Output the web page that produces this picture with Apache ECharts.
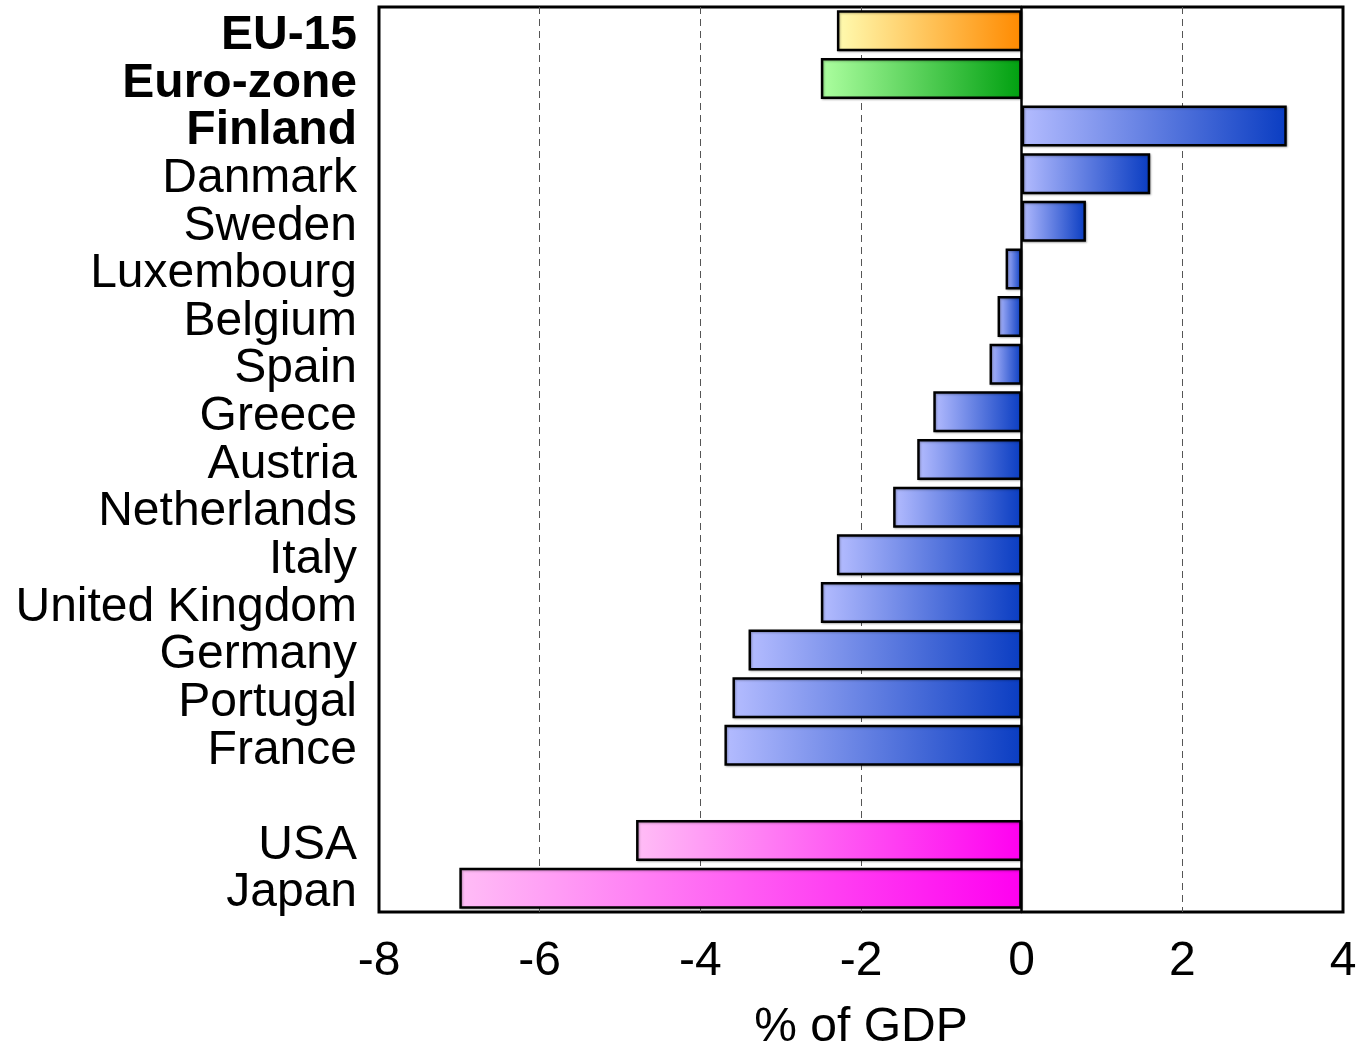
<!DOCTYPE html>
<html><head><meta charset="utf-8">
<script src="https://cdn.jsdelivr.net/npm/echarts@6/dist/echarts.min.js"></script>
<style>html,body{margin:0;padding:0;background:#fff}#c{width:1359px;height:1052px}</style>
</head><body><div id="c"></div>
<script>
const categories = ['EU-15','Euro-zone','Finland','Danmark','Sweden','Luxembourg','Belgium','Spain','Greece','Austria','Netherlands','Italy','United Kingdom','Germany','Portugal','France','','USA','Japan'];
const values = [-2.3,-2.5,3.3,1.6,0.8,-0.2,-0.3,-0.4,-1.1,-1.3,-1.6,-2.3,-2.5,-3.4,-3.6,-3.7,null,-4.8,-7.0];
const groups = ['eu','ez','c','c','c','c','c','c','c','c','c','c','c','c','c','c','','o','o'];
const boldLabels = ['EU-15','Euro-zone','Finland'];
const xTicks = [-8,-6,-4,-2,0,2,4];

const palette = {
  eu: ['#fffbb0','#ff8a00'],
  ez: ['#adffa0','#00a010'],
  c:  ['#b4bcff','#0a3dc2'],
  o:  ['#ffbdf6','#ff00f0']
};
function grad(g){
  return {type:'linear',x:0,y:0,x2:1,y2:0,colorStops:[{offset:0,color:palette[g][0]},{offset:1,color:palette[g][1]}]};
}
const data = values.map((v,i)=> v===null ? null : {
  value:v,
  itemStyle:{color:grad(groups[i]),borderColor:'#000',borderWidth:2.5,
    shadowColor:'rgba(0,0,0,0.25)',shadowBlur:2,shadowOffsetX:1,shadowOffsetY:1}
});
const font = '"Liberation Sans", Arial, Helvetica, sans-serif';
const chart = echarts.init(document.getElementById('c'));
chart.setOption({
  animation:false,
  grid:{left:379,right:16,top:7,bottom:140,outerBoundsMode:'none',containLabel:false,
    show:true,borderColor:'#000',borderWidth:3,backgroundColor:'transparent'},
  xAxis:{type:'value',min:xTicks[0],max:xTicks[xTicks.length-1],interval:2,
    axisLine:{show:false},axisTick:{show:false},
    axisLabel:{fontSize:48,color:'#000',fontFamily:font,margin:26},
    splitLine:{show:true,showMinLine:false,showMaxLine:false,lineStyle:{type:[7,5],color:'#555',width:1}},
    name:'% of GDP',nameLocation:'middle',nameGap:92,
    nameTextStyle:{fontSize:48,color:'#000',fontFamily:font}
  },
  yAxis:{type:'category',data:categories,inverse:true,
    axisLine:{show:true,onZero:true,lineStyle:{color:'#000',width:2.5}},
    axisTick:{show:false},
    axisLabel:{interval:0,fontSize:48,color:'#000',fontFamily:font,margin:22,padding:[10,0,0,0],
      formatter:v=> boldLabels.includes(v) ? '{b|'+v+'}' : v,
      rich:{b:{fontSize:48,fontWeight:'bold',color:'#000',fontFamily:font}}
    },
    splitLine:{show:false}
  },
  series:[{type:'bar',data:data,barWidth:41,z:3}]
});
</script></body></html>
